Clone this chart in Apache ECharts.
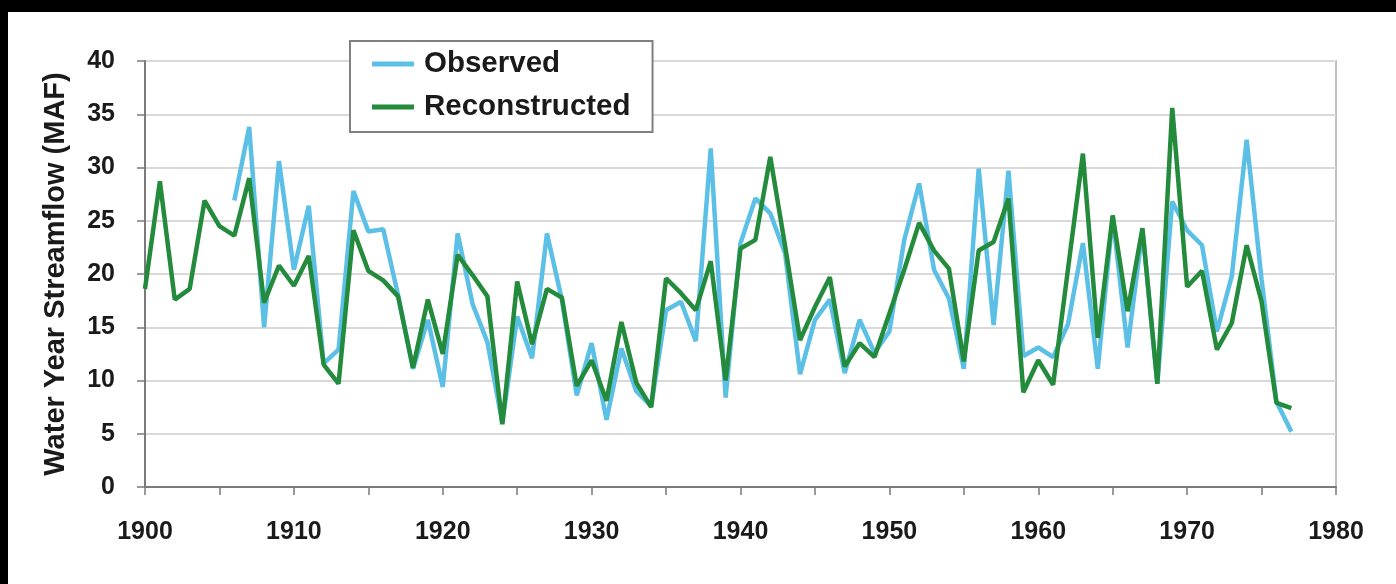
<!DOCTYPE html>
<html>
<head>
<meta charset="utf-8">
<script src="https://cdn.jsdelivr.net/npm/echarts@6/dist/echarts.min.js"></script>
<style>
  html, body { margin: 0; padding: 0; background: #000; width: 1396px; height: 584px; overflow: hidden; }
  #chart { position: absolute; left: 8px; top: 12px; width: 1388px; height: 572px; background: #fff; }
</style>
</head>
<body>
<div id="chart"></div>
<script>
const years = [1900,1901,1902,1903,1904,1905,1906,1907,1908,1909,
  1910,1911,1912,1913,1914,1915,1916,1917,1918,1919,
  1920,1921,1922,1923,1924,1925,1926,1927,1928,1929,
  1930,1931,1932,1933,1934,1935,1936,1937,1938,1939,
  1940,1941,1942,1943,1944,1945,1946,1947,1948,1949,
  1950,1951,1952,1953,1954,1955,1956,1957,1958,1959,
  1960,1961,1962,1963,1964,1965,1966,1967,1968,1969,
  1970,1971,1972,1973,1974,1975,1976,1977];

const observed = [null,null,null,null,null,null,26.9,33.8,15.0,30.6,
  20.4,26.4,11.6,12.9,27.8,24.0,24.2,18.0,11.1,15.7,
  9.4,23.8,17.2,13.6,6.0,16.0,12.1,23.8,17.6,8.6,
  13.5,6.3,13.0,9.0,7.6,16.6,17.4,13.7,31.8,8.4,
  22.9,27.1,25.7,21.9,10.6,15.7,17.6,10.7,15.7,12.6,
  14.6,23.2,28.5,20.4,17.7,11.1,29.9,15.2,29.7,12.3,
  13.1,12.2,15.3,22.9,11.1,25.4,13.1,24.1,9.7,26.8,
  24.1,22.7,14.6,19.8,32.6,19.5,8.0,5.2];

const reconstructed = [18.6,28.7,17.6,18.6,26.9,24.5,23.6,29.0,17.3,20.8,
  18.9,21.7,11.5,9.7,24.1,20.3,19.4,17.9,11.2,17.6,
  12.5,21.8,19.9,17.9,5.9,19.3,13.4,18.6,17.8,9.5,
  11.9,8.1,15.5,9.8,7.5,19.6,18.2,16.6,21.2,10.0,
  22.4,23.2,31.0,22.6,13.8,16.9,19.7,11.3,13.5,12.2,
  16.3,20.4,24.8,22.2,20.5,11.8,22.2,23.0,27.1,8.9,
  11.9,9.6,20.5,31.3,14.0,25.5,16.5,24.3,9.7,35.6,
  18.8,20.3,12.9,15.4,22.7,17.4,7.9,7.4];

const seriesNames = ['Observed', 'Reconstructed'];
const yAxisTitle = 'Water Year Streamflow (MAF)';

const pair = (arr) => years.map((y, i) => [y, arr[i]]);

const chart = echarts.init(document.getElementById('chart'), null, { renderer: 'canvas' });
const fontFamily = '"Liberation Sans", Arial, sans-serif';

chart.setOption({
  animation: false,
  backgroundColor: '#fff',
  grid: {
    left: 137, top: 49, right: 60, bottom: 97,
    show: true, borderColor: '#c0c0c0', borderWidth: 2, backgroundColor: 'transparent'
  },
  legend: {
    orient: 'vertical',
    left: 342, top: 29,
    data: seriesNames,
    icon: 'rect',
    itemWidth: 42, itemHeight: 5,
    itemGap: 13,
    padding: [8, 22, 10, 22],
    borderColor: '#808080', borderWidth: 2,
    backgroundColor: '#fff',
    textStyle: { fontFamily, fontWeight: 'bold', fontSize: 29.5, color: '#1a1a1a', padding: [0, 0, 0, 5] }
  },
  xAxis: {
    type: 'value', min: 1900, max: 1980, interval: 5,
    axisLine: { show: true, lineStyle: { color: '#7a7a7a', width: 2 } },
    axisTick: { show: true, inside: false, length: 8, lineStyle: { color: '#7a7a7a', width: 1.5 } },
    splitLine: { show: false },
    axisLabel: {
      margin: 33,
      fontFamily, fontWeight: 'bold', fontSize: 25, color: '#1a1a1a',
      formatter: (v) => (v % 10 === 0 ? String(v) : '')
    }
  },
  yAxis: {
    type: 'value', min: 0, max: 40, interval: 5,
    name: yAxisTitle, nameLocation: 'middle', nameGap: 75,
    nameTextStyle: { fontFamily, fontWeight: 'bold', fontSize: 29, color: '#1a1a1a' },
    axisLine: { show: true, lineStyle: { color: '#7a7a7a', width: 2 } },
    axisTick: { show: true, inside: false, length: 8, lineStyle: { color: '#7a7a7a', width: 1.5 } },
    splitLine: { show: true, lineStyle: { color: '#d9d9d9', width: 2 } },
    axisLabel: { margin: 30, fontFamily, fontWeight: 'bold', fontSize: 25, color: '#1a1a1a' }
  },
  series: [
    {
      name: seriesNames[0], type: 'line', data: pair(observed),
      showSymbol: false, symbol: 'none', connectNulls: false,
      lineStyle: { color: '#5bbfe6', width: 4.5 }, itemStyle: { color: '#5bbfe6' }
    },
    {
      name: seriesNames[1], type: 'line', data: pair(reconstructed),
      showSymbol: false, symbol: 'none',
      lineStyle: { color: '#238b3b', width: 4.5 }, itemStyle: { color: '#238b3b' }
    }
  ]
});
</script>
</body>
</html>
